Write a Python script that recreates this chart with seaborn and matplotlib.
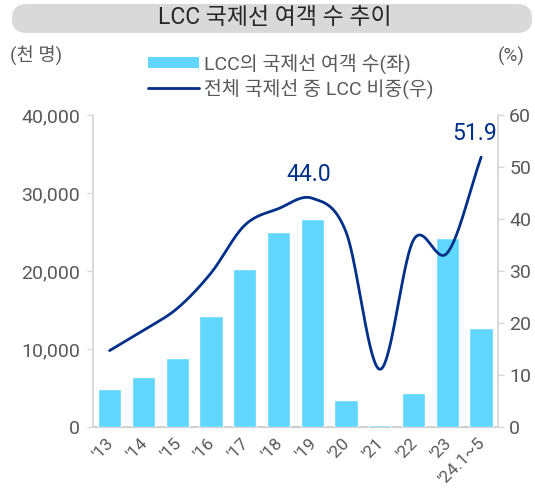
import numpy as np
import pandas as pd
import matplotlib
matplotlib.use("Agg")
import matplotlib.pyplot as plt
import matplotlib.transforms as mtransforms
from matplotlib.patches import FancyBboxPatch
from matplotlib.lines import Line2D
from matplotlib.patches import Patch
import seaborn as sns

sns.set_style("white")
plt.rcParams['font.family'] = ['Roboto', 'Noto Sans CJK KR', 'DejaVu Sans']

categories = ["'13", "'14", "'15", "'16", "'17", "'18", "'19", "'20", "'21", "'22", "'23", "'24.1~5"]
passengers = [4830, 6450, 8890, 14230, 20260, 25040, 26670, 3460, 300, 4400, 24190, 12690]
share = [14.7, 18.6, 22.8, 29.6, 38.8, 42.0, 44.0, 37.5, 11.1, 36.0, 33.5, 51.9]

title = "LCC 국제선 여객 수 추이"
bar_label = "LCC의 국제선 여객 수(좌)"
line_label = "전체 국제선 중 LCC 비중(우)"

bar_color = "#61D6FF"
line_color = "#003087"
tick_color = "#595959"
spine_color = "#D9D9D9"

df = pd.DataFrame({"cat": categories, "pax": passengers, "share": share})

fig = plt.figure(figsize=(5.35, 4.92), dpi=100)
ax = fig.add_axes([0.1733, 0.1321, 0.7576, 0.6341])

sns.barplot(data=df, x="cat", y="pax", color=bar_color, saturation=1, width=0.69, ax=ax, zorder=3)
ax.set_xlim(-0.5, len(categories) - 0.5)
ax.set_ylim(0, 40000)
ax.set_yticks(range(0, 40001, 10000))
ax.set_yticklabels([f"{v:,}" for v in range(0, 40001, 10000)])
ax.set_xlabel("")
ax.set_ylabel("")

# smooth line (Catmull-Rom through the data points)
def catmull_rom(xs, ys, n=40):
    xs = np.asarray(xs, float); ys = np.asarray(ys, float)
    px = np.concatenate([[2*xs[0]-xs[1]], xs, [2*xs[-1]-xs[-2]]])
    py = np.concatenate([[2*ys[0]-ys[1]], ys, [2*ys[-1]-ys[-2]]])
    ox, oy = [], []
    for i in range(1, len(px) - 2):
        t = np.linspace(0, 1, n, endpoint=False)
        for arr, out in ((px, ox), (py, oy)):
            p0, p1, p2, p3 = arr[i-1], arr[i], arr[i+1], arr[i+2]
            out.extend(0.5*((2*p1) + (-p0+p2)*t + (2*p0-5*p1+4*p2-p3)*t**2 + (-p0+3*p1-3*p2+p3)*t**3))
    ox.append(xs[-1]); oy.append(ys[-1])
    return np.array(ox), np.array(oy)

ax2 = ax.twinx()
sx, sy = catmull_rom(np.arange(len(share)), share)
sns.lineplot(x=sx, y=sy, color=line_color, lw=2, ax=ax2, sort=False)
ax2.set_ylim(0, 60)
ax2.set_yticks(range(0, 61, 10))
ax2.set_xlim(-0.5, len(categories) - 0.5)

ax2.text(6 - 0.1, 46.3, f"{share[6]:.1f}", color=line_color, fontsize=16.5, ha="center", va="bottom")
ax2.text(11 - 0.2, 54.3, f"{share[11]:.1f}", color=line_color, fontsize=16.5, ha="center", va="bottom")

for a in (ax, ax2):
    for s in a.spines.values():
        s.set_color(spine_color)
        s.set_linewidth(1.2)
    a.spines["top"].set_visible(False)
ax2.spines["bottom"].set_visible(False)
ax.spines["bottom"].set_color("#D0D0D0")
ax.spines["bottom"].set_linewidth(1.5)
ax.spines["bottom"].set_zorder(1)

ax.tick_params(axis="y", colors=spine_color, labelcolor=tick_color, labelsize=14, length=4, width=1, direction="out", pad=5)
ax2.tick_params(axis="y", colors=spine_color, labelcolor=tick_color, labelsize=14, length=4, width=1, direction="out", pad=4)
ax.tick_params(axis="x", length=0, labelcolor=tick_color, labelsize=12.5, pad=6)
offset = mtransforms.ScaledTranslation(-4/100, 0, fig.dpi_scale_trans)
for lbl in ax.get_xticklabels():
    lbl.set_rotation(45)
    lbl.set_ha("right")
    lbl.set_va("top")
    lbl.set_rotation_mode("anchor")
    lbl.set_transform(lbl.get_transform() + offset)

# title box
tb = FancyBboxPatch((12/535, 1 - 33/492), 520/535, 29/492,
                    boxstyle="round,pad=0,rounding_size=0.028",
                    transform=fig.transFigure, facecolor="#D9D9D9", edgecolor="none")
fig.patches.append(tb)
fig.text(275/535, 1 - 18/492, title, ha="center", va="center", fontsize=16.5, color="#262626")

fig.text(10/535, 1 - 56/492, "(천 명)", ha="left", va="center", fontsize=13.5, color=tick_color)
fig.text(525/535, 1 - 56/492, "(%)", ha="right", va="center", fontsize=13.5, color=tick_color)

handles = [Patch(facecolor=bar_color, edgecolor="none"), Line2D([0], [0], color=line_color, lw=2)]
fig.legend(handles, [bar_label, line_label], loc="upper left", bbox_to_anchor=(148/535, 1 - 53/492),
           frameon=False, fontsize=14, labelcolor=tick_color, handlelength=2.6, handleheight=0.45,
           handletextpad=0.3, labelspacing=0.25, borderaxespad=0, borderpad=0)

fig.savefig("out.png", dpi=100)
